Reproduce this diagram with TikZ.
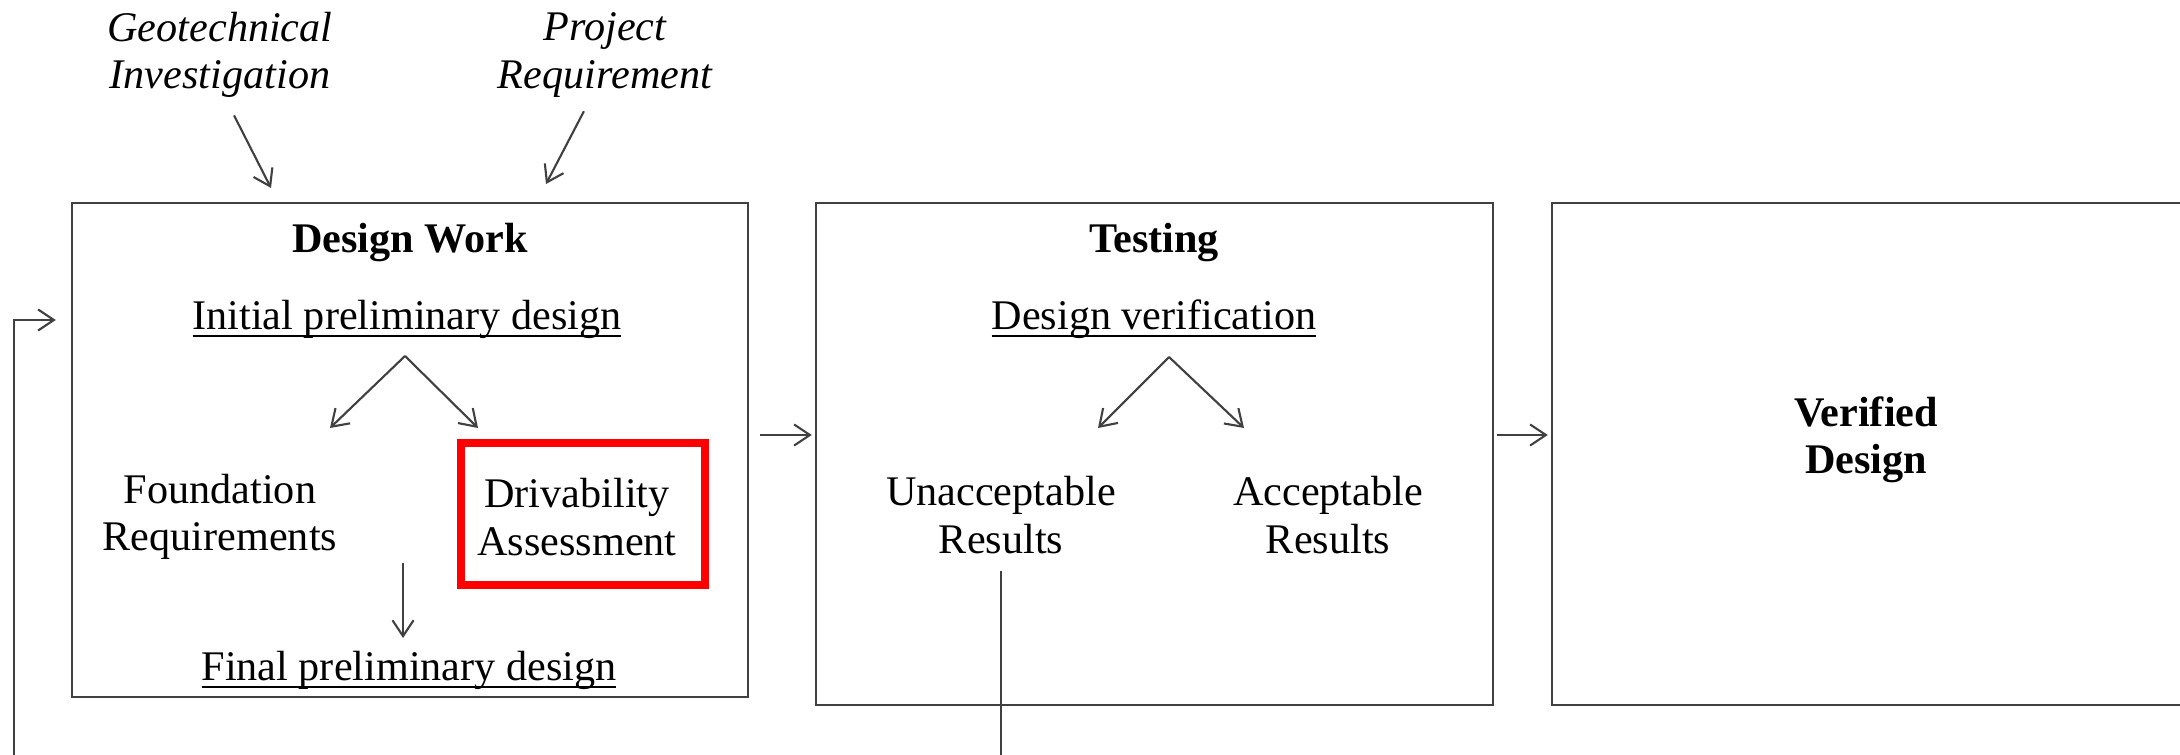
\documentclass[tikz,border=0pt]{standalone}
\usepackage{fontspec}
\setmainfont{Liberation Serif}
\usetikzlibrary{arrows.meta}
\newcommand\wordline[1]{\setbox0\hbox{#1}\rlap{\rule[-2.2pt]{\wd0}{0.6pt}}\box0}
\begin{document}
\begin{tikzpicture}[x=0.01cm,y=-0.01cm,
  every node/.style={font=\fontsize{12}{13.5}\selectfont,align=center,inner sep=0pt,outer sep=0pt},
  stagebox/.style={draw=black!75,line width=0.6pt},
  flow/.style={draw=black!75,line width=0.6pt,-{Straight Barb[length=4.5pt,width=6pt]}},
  link/.style={draw=black!75,line width=0.6pt}]
  \useasboundingbox (0,0) rectangle (2180,755);
  \clip (0,0) rectangle (2180,755);
  % the three stages
  \node[stagebox,minimum width=6.76cm,minimum height=4.94cm] (design) at (410,450) {};
  \node[stagebox,minimum width=6.77cm,minimum height=5.02cm] (testing) at (1154.5,454) {};
  \node[stagebox,minimum width=6.5cm,minimum height=5.02cm] (verified) at (1877,454) {};
  % inputs
  \node[font=\fontsize{12}{13.5}\selectfont\itshape] (geo) at (220,55) {Geotechnical\\Investigation};
  \node[font=\fontsize{12}{13.5}\selectfont\itshape] (proj) at (605,55) {Project\\Requirement};
  \coordinate (geoin) at (271,188);
  \coordinate (projin) at (546,184);
  \draw[flow] ([xshift=4pt,yshift=-5pt]geo.south) -- (geoin);
  \draw[flow] ([xshift=-6pt,yshift=-4pt]proj.south) -- (projin);
  % design work
  \node[font=\fontsize{12}{13.5}\selectfont\bfseries] (dtitle) at (410,243) {Design Work};
  \node (init) at (407,319) {\wordline{Initial preliminary design}};
  \node (found) at (220,517) {Foundation\\Requirements};
  \node[draw=red,line width=2.3pt,minimum width=2.44cm,minimum height=1.42cm] (driv) at (583,514) {};
  \node (drivtext) at (577,517) {Drivability\\Assessment};
  \node (final) at (409,670) {\wordline{Final preliminary design}};
  \coordinate (dfork) at (405,356);
  \coordinate (dleft) at (330,428);
  \coordinate (dright) at (478,428);
  \draw[flow] (dfork) -- (dleft);
  \draw[flow] (dfork) -- (dright);
  \coordinate (dstem) at (403,563);
  \coordinate (dfoot) at (403,638);
  \draw[flow] (dstem) -- (dfoot);
  % testing
  \node[font=\fontsize{12}{13.5}\selectfont\bfseries] (ttitle) at (1154,243) {Testing};
  \node (verif) at (1154,319) {\wordline{Design verification}};
  \node (unacc) at (1001,515) {Unacceptable\\Results};
  \node (acc) at (1328,515) {Acceptable\\Results};
  \coordinate (tfork) at (1169,357);
  \coordinate (tleft) at (1098,428);
  \coordinate (tright) at (1244,428);
  \draw[flow] (tfork) -- (tleft);
  \draw[flow] (tfork) -- (tright);
  % verified
  \node[font=\fontsize{12}{13.5}\selectfont\bfseries] (vd) at (1866,440) {Verified\\Design};
  % connections between stages
  \coordinate (row) at (0,435);
  \draw[flow,shorten <=0.12cm,shorten >=0.04cm] (design.east |- row) -- (testing.west |- row);
  \draw[flow,shorten <=0.04cm,shorten >=0.04cm] (testing.east |- row) -- (verified.west |- row);
  % loop back
  \coordinate (loopfoot) at (14,770);
  \coordinate (loopin) at (14,320);
  \draw[link] ([yshift=-5pt]unacc.south) -- (unacc.south |- loopfoot);
  \draw[flow,shorten >=0.16cm] (loopfoot) -- (loopin) -- (design.west |- loopin);
\end{tikzpicture}
\end{document}
